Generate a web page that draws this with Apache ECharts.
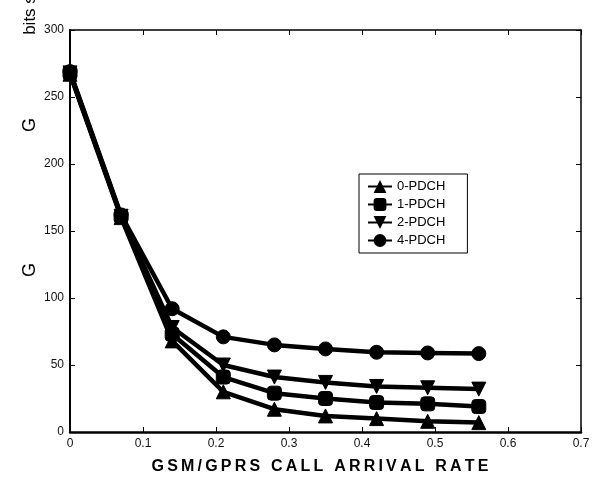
<!DOCTYPE html>
<html>
<head>
<meta charset="utf-8">
<script src="https://cdn.jsdelivr.net/npm/echarts@6/dist/echarts.min.js"></script>
<style>html,body{margin:0;padding:0;background:#fff}#c{width:601px;height:481px}</style>
</head>
<body>
<div id="c"></div>
<script>
var arrivalRate = [0, 0.07, 0.14, 0.21, 0.28, 0.35, 0.42, 0.49, 0.56];
var pdch0 = [267, 160, 68, 30, 17, 12, 10, 8, 7];
var pdch1 = [268, 161, 73, 41, 29, 25, 22, 21, 19];
var pdch2 = [268, 161, 78, 50, 41, 37, 34, 33, 32];
var pdch4 = [269, 162, 92, 71, 65, 62, 59.5, 59, 58.5];
var seriesNames = ['0-PDCH', '1-PDCH', '2-PDCH', '4-PDCH'];
var xTitle = 'GSM/GPRS CALL ARRIVAL RATE';

function pairs(ys) { return arrivalRate.map(function (x, i) { return [x, ys[i]]; }); }
function spaced(s) { return s.split('').join('\u2009'); }

var chart = echarts.init(document.getElementById('c'), null, { renderer: 'canvas' });
var font = 'Liberation Sans, Arial, sans-serif';
function axis(extra, showLabel, lw) {
  return Object.assign({
    type: 'value',
    splitLine: { show: false },
    axisLine: { show: true, onZero: false, lineStyle: { color: '#000', width: lw } },
    axisTick: { show: true, inside: true, length: 5, lineStyle: { color: '#000', width: 1 } },
    axisLabel: { show: showLabel, color: '#111', fontSize: 12, fontFamily: font, margin: 6 }
  }, extra);
}
function mk(name, data, symbol, rot) {
  return {
    name: name, type: 'line', data: pairs(data),
    symbol: symbol, symbolSize: 14, symbolRotate: rot || 0,
    lineStyle: { color: '#000', width: 4.5 },
    itemStyle: { color: '#000', borderColor: '#000' },
    showAllSymbol: true, animation: false
  };
}
chart.setOption({
  animation: false,
  grid: { left: 70, right: 20, top: 30, bottom: 49, containLabel: false },
  xAxis: [
    axis({ min: 0, max: 0.7, interval: 0.1, position: 'bottom' }, true, 2.5),
    axis({ min: 0, max: 0.7, interval: 0.1, position: 'top' }, false, 1.5)
  ],
  yAxis: [
    axis({ min: 0, max: 300, interval: 50, position: 'left' }, true, 2),
    axis({ min: 0, max: 300, interval: 50, position: 'right' }, false, 1.5)
  ],
  legend: {
    orient: 'vertical', left: 359, top: 174,
    backgroundColor: '#fff', borderColor: '#000', borderWidth: 1,
    padding: [6, 22, 6, 8], itemWidth: 24, itemHeight: 16, itemGap: 5,
    textStyle: { color: '#000', fontSize: 13, fontFamily: font },
    data: seriesNames
  },
  series: [
    mk(seriesNames[0], pdch0, 'triangle'),
    mk(seriesNames[1], pdch1, 'roundRect'),
    mk(seriesNames[2], pdch2, 'triangle', 180),
    mk(seriesNames[3], pdch4, 'circle')
  ],
  graphic: [
    { type: 'text', x: 30, y: 270, rotation: Math.PI / 2, style: { text: 'G', font: '18px ' + font, fill: '#000', textAlign: 'center', textVerticalAlign: 'middle' } },
    { type: 'text', x: 30, y: 125, rotation: Math.PI / 2, style: { text: 'G', font: '18px ' + font, fill: '#000', textAlign: 'center', textVerticalAlign: 'middle' } },
    { type: 'text', x: 30, y: 15, rotation: Math.PI / 2, style: { text: 'bits s', font: '17px ' + font, fill: '#000', textAlign: 'center', textVerticalAlign: 'middle' } },
    { type: 'text', x: 320, y: 467, style: { text: spaced(xTitle), font: 'bold 16px ' + font, fill: '#000', textAlign: 'center', textVerticalAlign: 'middle' } }
  ]
});
</script>
</body>
</html>
